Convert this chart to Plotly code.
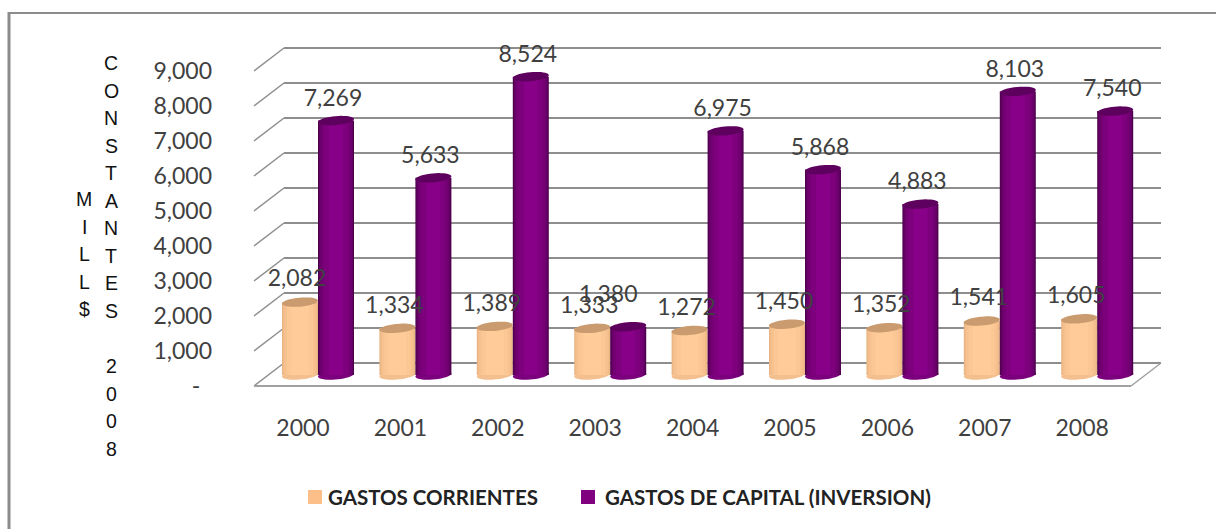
import numpy as np
import plotly.graph_objects as go

# Datos
anios = ["2000", "2001", "2002", "2003", "2004", "2005", "2006", "2007", "2008"]
gastos_corrientes = [2082, 1334, 1389, 1333, 1272, 1450, 1352, 1541, 1605]
gastos_capital = [7269, 5633, 8524, 1380, 6975, 5868, 4883, 8103, 7540]
ticks_y = [0, 1000, 2000, 3000, 4000, 5000, 6000, 7000, 8000, 9000]
textos_y = ["-\u00a0\u00a0", "1,000", "2,000", "3,000", "4,000", "5,000",
            "6,000", "7,000", "8,000", "9,000"]
titulo_1 = ["M", "I", "L", "L", "$"]
titulo_2 = ["C", "O", "N", "S", "T", "A", "N", "T", "E", "S", "", "2", "0", "0", "8"]

# Escala del dibujo (pixeles)
PX_X = 97.4      # entre grupos
PX_Y = 0.035     # por unidad de valor
L, R, T, B = 250, 1166, 30, 392
X_GRUPO0 = 318   # centro del primer grupo
Y_CERO = 386
FONDO_X, FONDO_Y = 30 / PX_X, 23 / PX_Y
SUELO = 11 / PX_Y  # base de los cilindros sobre el frente del piso
ANCHO = 36 / PX_X


def x_data(px):
    return (px - X_GRUPO0) / PX_X


def y_data(py):
    return (Y_CERO - py) / PX_Y


def x_paper(px):
    return (px - L) / (R - L)


def y_paper(py):
    return (B - py) / (B - T)


def elipse(cx, cy, color):
    t = np.linspace(0, 2 * np.pi, 40)
    xs = cx + (ANCHO / 2) * np.cos(t)
    ys = cy + (4.5 / PX_Y) * np.sin(t) + (1.5 / PX_Y) * np.cos(t)
    path = "M" + "L".join(f"{a:.4f},{b:.1f}" for a, b in zip(xs, ys)) + "Z"
    return dict(type="path", path=path, xref="x", yref="y", fillcolor=color, line_width=0)


pos = np.arange(len(anios))
x0, x1 = x_data(254), x_data(1161)
gris = "#8e8e8e"
shapes = []

# Rejilla: pared del fondo y piso
for t in ticks_y:
    shapes.append(dict(type="line", xref="x", yref="y", layer="below", x0=x0, y0=t,
                       x1=x0 + FONDO_X, y1=t + FONDO_Y, line=dict(color=gris, width=1.5)))
    shapes.append(dict(type="line", xref="x", yref="y", layer="below", x0=x0 + FONDO_X, y0=t + FONDO_Y,
                       x1=x1, y1=t + FONDO_Y, line=dict(color=gris, width=2)))
shapes.append(dict(type="line", xref="x", yref="y", layer="below", x0=x0, y0=0,
                   x1=x1 - FONDO_X, y1=0, line=dict(color="#a0a0a0", width=2)))
shapes.append(dict(type="line", xref="x", yref="y", layer="below", x0=x1 - FONDO_X, y0=0,
                   x1=x1, y1=FONDO_Y, line=dict(color="#a0a0a0", width=1.5)))

# Marco de la imagen
shapes.append(dict(type="line", xref="paper", yref="paper", x0=x_paper(9), y0=y_paper(12),
                   x1=x_paper(9), y1=y_paper(529), line=dict(color="#8c8c8c", width=3)))
shapes.append(dict(type="line", xref="paper", yref="paper", x0=x_paper(8), y0=y_paper(13),
                   x1=x_paper(1216), y1=y_paper(13), line=dict(color="#8c8c8c", width=2)))

fig = go.Figure()

series = [
    ("GASTOS CORRIENTES", gastos_corrientes, -ANCHO / 2,
     [(36, "#e8b483"), (34, "#f1bc8a"), (31, "#f7c290"), (26, "#fbc794"), (18, "#ffcc99")],
     "#c99b6e", "#f4bf8e"),
    ("GASTOS DE CAPITAL (INVERSION)", gastos_capital, ANCHO / 2,
     [(36, "#4e004e"), (34, "#5e005e"), (32, "#6a006a"), (29, "#740074"), (24, "#7d007d"), (14, "#880088")],
     "#5e005e", "#7b007b"),
]

for nombre, valores, centro, capas, color_tapa, color_base in series:
    # capas del cilindro, de la mas ancha y oscura a la mas clara
    for w, color in capas:
        fig.add_trace(go.Bar(x=pos + centro, y=valores, base=SUELO, width=w / PX_X,
                             marker=dict(color=color, line_width=0), name=nombre,
                             showlegend=False, hoverinfo="skip"))
    for p, v in zip(pos, valores):
        shapes.append(dict(elipse(p + centro, SUELO, color_base), layer="below"))
        shapes.append(dict(elipse(p + centro, SUELO + v, color_tapa), layer="above"))

# Etiquetas de datos
for valores, centro, gap in [(gastos_corrientes, -ANCHO / 2, 21.5), (gastos_capital, ANCHO / 2, 20.5)]:
    lx = pos + centro - 3 / PX_X
    ly = np.array(valores, dtype=float) + SUELO + gap / PX_Y
    if centro > 0:
        # la etiqueta de 2003 esta desplazada en el original
        lx[3] -= 17 / PX_X
        ly[3] += 10 / PX_Y
    fig.add_trace(go.Scatter(x=lx, y=ly, mode="text", text=[f"{v:,}" for v in valores],
                             textposition="middle center", cliponaxis=False, showlegend=False,
                             textfont=dict(family="Lato", size=23, color="#404040"), hoverinfo="skip"))

# Titulo vertical, letra por letra
annotations = []
for letras, px, py0 in [(titulo_1, 84, 199), (titulo_2, 111, 63)]:
    for i, letra in enumerate(letras):
        if letra:
            annotations.append(dict(text=letra, xref="paper", yref="paper", x=x_paper(px),
                                    y=y_paper(py0 + i * 27.55), showarrow=False,
                                    xanchor="center", yanchor="middle",
                                    font=dict(family="Liberation Sans", size=19.5, color="#111111")))

# Leyenda
for texto, color, sx, tx in [(series[0][0], "#fdbf8a", 308, 326), (series[1][0], "#800080", 581, 603)]:
    shapes.append(dict(type="rect", xref="paper", yref="paper", x0=x_paper(sx), x1=x_paper(sx + 14),
                       y0=y_paper(490), y1=y_paper(504), fillcolor=color, line_width=0))
    annotations.append(dict(text=f"<b>{texto}</b>", xref="paper", yref="paper", x=x_paper(tx),
                            y=y_paper(497), showarrow=False, xanchor="left", yanchor="middle",
                            font=dict(family="Lato", size=20.5, color="#222222")))

fig.update_layout(
    width=1216,
    height=529,
    margin=dict(l=L, r=1216 - R, t=T, b=529 - B),
    barmode="overlay",
    showlegend=False,
    paper_bgcolor="white",
    plot_bgcolor="white",
    shapes=shapes,
    annotations=annotations,
    xaxis=dict(range=[x_data(L), x_data(R)], tickmode="array", tickvals=pos - 15 / PX_X, ticktext=anios,
               showgrid=False, zeroline=False, showline=False, ticks="",
               ticklabelstandoff=20, tickfont=dict(family="Lato", size=23, color="#404040")),
    yaxis=dict(range=[y_data(B), y_data(T)], tickmode="array", tickvals=ticks_y, ticktext=textos_y,
               showgrid=False, zeroline=False, showline=False, ticks="",
               ticklabelstandoff=37, tickfont=dict(family="Lato", size=23, color="#404040")),
)

fig.write_html("out.html", config=dict(displayModeBar=False),
               post_script="document.body.style.margin='0';")
